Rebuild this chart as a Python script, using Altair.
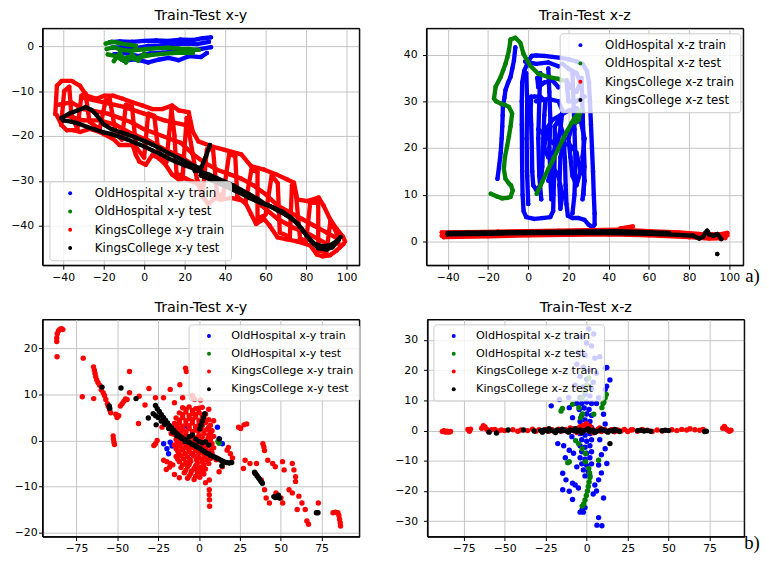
import altair as alt
import pandas as pd

COLORS = ["#0000ff", "#008000", "#ff0000", "#000000"]
NAMES_XY = ["OldHospital x-y train", "OldHospital x-y test", "KingsCollege x-y train", "KingsCollege x-y test"]
NAMES_XZ = ["OldHospital x-z train", "OldHospital x-z test", "KingsCollege x-z train", "KingsCollege x-z test"]

A_XTICKS = [-40, -20, 0, 20, 40, 60, 80, 100]
A_XY_YTICKS = [-40, -30, -20, -10, 0]
A_XZ_YTICKS = [0, 10, 20, 30, 40]
B_XTICKS = [-75, -50, -25, 0, 25, 50, 75]
B_XY_YTICKS = [-20, -10, 0, 10, 20]
B_XZ_YTICKS = [-30, -20, -10, 0, 10, 20, 30]

# ---------------- a) x-y : trajectories (polylines of sampled positions) ----------------
A_XY_OH_TRAIN = [
    [(-17, 0.9), (-12, 1.1), (-6, 1.0), (0, 1.2), (6, 1.3), (12, 1.2), (18, 1.5), (24, 1.4), (29, 1.8), (33, 2.0)],
    [(-16, -0.3), (-10, -0.2), (-4, -0.4), (2, 0.1), (8, 0.2), (14, 0.4), (20, 0.6), (26, 0.5), (32, 1.0)],
    [(-15, -1.8), (-9, -1.5), (-3, -2.2), (3, -1.6), (9, -1.4), (15, -1.2), (21, -1.0), (27, -0.7), (33, -0.2)],
    [(-10, -3.2), (-4, -2.9), (2, -3.6), (7, -3.0), (12, -2.6), (17, -3.1), (22, -2.2), (28, -2.4), (31, -1.5)],
]
A_XY_OH_TEST = [
    [(-19, 0.6), (-16, 1.0), (-13, 0.8), (-10, 0.5), (-7, 0.3), (-4, 0.1)],
    [(-18.5, -0.6), (-15, -0.2), (-11, -0.8), (-7, -1.0), (-3, -0.8), (2, -0.6), (7, -0.4), (12, -0.3), (17, -0.5), (22, -0.6), (27, -0.8)],
    [(-18, -1.8), (-14, -2.2), (-11, -3.0), (-8, -2.4), (-5, -2.8), (-1, -2.3), (4, -1.9), (9, -1.7), (14, -1.5), (19, -1.4), (24, -1.5)],
    [(-15, -3.3), (-12, -1.5), (-9, -3.6), (-6, -1.8), (-3, -3.2), (0, -1.6)],
]
A_XY_KC_TRAIN = [
    [(-43.9, -15.1), (-43.1, -8.8), (-40.7, -7.7), (-35.8, -7.7), (-31.7, -8.8), (-28.5, -11), (-23.6, -11.7), (-19.5, -11),
     (-15.4, -11), (-10.6, -11.7), (-5.7, -12.5), (-0.8, -13.2), (4.1, -14), (8.9, -14), (13.8, -13.2), (17.1, -14.3), (22, -14.7),
     (24, -19), (26.8, -21.2), (33.3, -22.3), (39.8, -23.1), (48, -24.1), (52.8, -26.7), (59.3, -27.5), (65, -28.5), (70.7, -29.7),
     (74, -30.4), (75.6, -34.1), (80.5, -34.5), (86.2, -33.7), (88.6, -35.5), (91.8, -38.5), (95.1, -40.7), (98.3, -42.5), (99.2, -43.5)],
    [(98.4, -44.1), (96.7, -44.8), (95.1, -45.5), (91.8, -46.6), (88, -46.8), (85.3, -46.4), (82.1, -44.4), (75.6, -43.5), (70, -43),
     (65.9, -42.6), (62, -40), (59.3, -38.5), (55.3, -39.6), (52.8, -37.4), (49.6, -34.5), (43.1, -33.8), (38, -34.2), (34.9, -33.8),
     (31.7, -35.2), (29.3, -33.8), (26.8, -30.8), (23.6, -30.1), (20.3, -29.4), (17.1, -29.7), (13.8, -28.6), (10.6, -26.4), (7.3, -25),
     (4.1, -24.2), (0.8, -26.4), (-2.4, -25.7), (-4.1, -24.2), (-5.7, -22), (-8.9, -22), (-12.2, -22), (-15.4, -20.6), (-22, -19.1),
     (-26.8, -18.4), (-31.7, -19.1), (-34.9, -18.7), (-38.2, -18.7), (-40.7, -17.6), (-43.1, -15.4)],
    [(-41, -17.5), (-39.5, -10), (-37, -9), (-36, -15), (-33, -18.5), (-31, -11), (-29, -10.5), (-27, -16.8), (-22, -18.5), (-19, -12),
     (-17, -11.8), (-14, -19.5), (-11, -20.8), (-9, -13), (-6, -13.5), (-4, -22.5), (0, -24.8), (2, -15), (5, -15.5), (7, -23.5),
     (11, -25.8), (13.5, -14), (15, -20), (16, -28.5), (19, -28.8), (21, -16), (24, -24), (26, -29.5), (29, -32.5), (31, -23), (34, -22.8),
     (36, -33), (39, -33.2), (42, -24), (45, -24.5), (46, -33.5), (50, -35), (53, -27.5), (56, -28), (56, -38.5), (60, -37.5), (63, -28.8),
     (66, -30.5), (67, -41.5), (72, -42.5), (73, -31), (75, -33), (77, -42.8), (80, -43.5), (82, -35), (86, -34.5), (86, -45.5),
     (90, -46), (92, -39), (95, -41.5), (96, -44)],
    [(-42, -13), (-36, -12.5), (-30, -14), (-24, -14.5), (-18, -15), (-12, -16), (-6, -17), (0, -18.5), (6, -19.5), (12, -20.5),
     (18, -21.5), (24, -24), (30, -26), (36, -27.5), (42, -28.5), (48, -29.5), (54, -31), (60, -33), (66, -35.5), (72, -37),
     (78, -38.5), (84, -40), (90, -41.5), (96, -43)],
    [(-38, -15.5), (-30, -16.5), (-22, -16.5), (-14, -17.5), (-6, -19.5), (2, -21), (10, -23), (18, -24.5), (26, -27), (34, -30),
     (42, -31.5), (50, -32.5), (58, -35.5), (66, -38.5), (74, -40.5), (82, -42), (90, -44)],
    [(-30, -11.5), (-20, -12.5), (-10, -13.5), (0, -15), (10, -16.5), (20, -17.5)],
]
A_XY_KC_TEST = [
    [(-40, -16.5), (-36, -16.8), (-32, -17.3), (-28, -18.0), (-24, -18.6), (-20, -19.2), (-16, -19.6), (-12, -20.2), (-8, -20.8),
     (-4, -21.6), (0, -22.3), (4, -23.2), (8, -24.0), (12, -25.0), (16, -25.8), (20, -26.5), (24, -27.2), (28, -28.0), (32, -28.6),
     (36, -29.4), (40, -30.2), (44, -31.0), (48, -32.0), (52, -33.0), (56, -34.0), (60, -35.2), (64, -36.0), (68, -36.8), (72, -38.0),
     (76, -39.6), (80, -42.0), (84, -44.0), (88, -44.6), (92, -44.3), (95, -43.5), (97, -42.5)],
    [(-41, -16.0), (-37, -15.0), (-33, -14.3), (-29, -13.6), (-26, -14.2), (-23.5, -15.3), (-20, -17.4), (-16, -18.5), (-12, -19.1),
     (-8, -19.7), (-4, -20.4), (0, -21.1), (4, -21.9), (8, -22.8), (12, -23.8), (16, -24.7), (20, -25.6), (24, -26.5), (28, -27.3)],
    [(25, -27.8), (28.5, -26.8), (30.5, -24.5), (32.5, -22)],
    [(28, -28.8), (34, -30.0), (40, -31.2), (46, -32.4), (52, -33.8), (58, -35.0), (62, -35.6), (66, -36.6), (70, -37.6), (74, -38.8),
     (78, -40.8), (82, -43.2), (86, -45.0), (90, -45.3), (93, -44.8), (96, -43.2)],
]

# ---------------- a) x-z ----------------
A_XZ_OH_TRAIN = [
    [(-15.3, 13.4), (-14.5, 16), (-13.7, 19.0), (-13.2, 22), (-12.9, 24.6), (-12.7, 27), (-12.6, 28.8), (-11.8, 30.8), (-11.3, 32.4),
     (-10, 34), (-8.8, 35.2), (-7.9, 37), (-7.1, 38.7), (-6.4, 41.5)],
    [(1.8, 39.7), (0, 38.5), (-2, 36.5), (-3, 34), (-3.2, 30), (-3.2, 25), (-3.1, 20), (-3.0, 15), (-2.8, 10), (-2.3, 6.5), (-1, 5.2),
     (3, 4.8), (7, 5.0), (11, 5.2), (12.4, 6.5), (12.6, 10), (13, 15), (13.2, 20), (13.2, 24.6)],
    [(13.2, 24.6), (15, 26), (17.5, 23), (18.3, 17), (18.6, 12), (19, 8), (19.7, 5.5), (22, 5.0), (25, 5.0), (28, 4.6), (30, 3.6),
     (32, 3.0), (33, 3.6), (33, 6), (32.6, 10), (32.2, 15), (31.7, 20), (31.2, 25), (30.7, 30), (30.2, 34), (29.2, 36.5), (27, 38),
     (24, 38.5), (20, 39), (16, 39.3), (12, 39.5), (8, 39.7), (4, 39.8), (1.8, 39.7)],
    [(1.5, 31), (1.2, 28), (1.5, 25), (1.8, 20), (2, 15), (2.5, 12), (4, 11), (6, 12), (7, 16), (7.5, 22), (8, 27), (8.5, 30), (6, 31), (3, 31)],
    [(4, 30), (10, 30.5), (15, 30), (17, 28), (16, 24), (14, 20), (10, 18), (8, 20), (9, 24), (12, 26), (16, 27), (20, 28), (24, 28.5), (27, 27)],
    [(5, 24), (10, 22), (15, 20), (20, 21), (24, 19), (26, 15), (24, 12), (22, 14), (21, 18), (20, 22), (22, 25), (26, 26), (28, 22),
     (27, 18), (28, 13), (27, 9)],
    [(10, 13), (12, 16), (15, 14), (17, 10), (16, 7), (15.5, 12), (16, 18), (18, 22)],
    [(17, 38), (20, 37), (24, 36), (26, 34), (24, 32), (21, 33), (19, 34.5), (20, 30), (24, 30), (28, 31)],
    [(-1.5, 38.5), (4, 38), (10, 38.3), (15, 37.5)],
    [(4.5, 35), (5, 33), (8, 34), (12, 34.5), (15, 33)],
    [(-1, 36), (-0.5, 30), (-0.8, 22), (-0.5, 14), (0, 8)],
    [(6, 36), (5.5, 30), (5, 22), (5.5, 14), (6.5, 9)],
    [(22, 36), (22.5, 30), (23, 24), (23.5, 17), (23, 10), (22, 6)],
    [(26.5, 35), (27, 28), (27.5, 22), (28, 16), (27.5, 10)],
    [(10, 37), (10.5, 32), (11, 26), (10.5, 20), (11, 14), (11.5, 9)],
]
A_XZ_OH_TEST = [
    [(-18.6, 10.2), (-15.5, 9.6), (-12.9, 9.2), (-10.5, 9.3), (-8.8, 9.5), (-7.7, 10.9), (-8.6, 12), (-9.6, 12.4), (-11.3, 13.4),
     (-12.1, 15.5), (-11.6, 18), (-10.5, 20.4), (-9.6, 22.5), (-8.8, 24.6), (-8.0, 27.4), (-9.6, 28.8), (-11.5, 29.2), (-13.7, 29.5),
     (-16, 30), (-17.0, 30.6), (-16.2, 33.1), (-13.7, 35.2), (-12.5, 36.6), (-11.3, 38.0), (-10.4, 39.4), (-9.6, 40.8), (-8.8, 43.2),
     (-6.4, 43.6), (-3.9, 42.5), (-2.3, 40.1), (1.0, 37.6), (5.0, 35.9), (9.9, 35.2), (14.8, 34.8), (17, 34.5)],
    [(4.2, 10.2), (7, 12.8), (10.0, 15.5), (12.5, 17.6), (14.8, 19.7), (17.2, 21.8), (19.7, 23.9), (21.5, 25.3), (23.0, 26.4),
     (24.9, 27.4), (26, 28), (25, 26), (23.5, 25.5)],
]
A_XZ_KC_TRAIN = [
    [(-43, 1.2), (-30, 1.4), (-15, 1.6), (0, 1.7), (15, 1.8), (30, 1.9), (45, 2.0), (60, 1.8), (75, 1.4), (85, 1.2), (92, 1.0), (99, 1.3)],
    [(-43, 1.9), (-30, 2.0), (-15, 2.1), (0, 2.2), (15, 2.3), (30, 2.4), (45, 2.5), (60, 2.2), (75, 1.9), (85, 1.6), (95, 1.5), (99, 1.8)],
    [(-42, 0.9), (-20, 1.1), (0, 1.3), (20, 1.4), (40, 1.5), (60, 1.3), (80, 0.9), (90, 0.6), (98, 0.7)],
    [(46, 2.8), (52, 3.2)],
]
A_XZ_KC_TEST = [
    [(-40, 1.5), (-20, 1.6), (0, 1.8), (20, 1.8), (40, 1.8), (60, 1.6), (75, 1.4), (82, 1.2), (85, 0.6), (87, 1.0), (88, 1.8),
     (89, 2.3), (90, 1.5), (92, 1.2), (94, 1.6), (96, 0.5)],
    [(-40, 1.8), (-10, 2.0), (20, 2.1), (45, 2.2), (70, 1.8)],
    [(94, -2.7)],
]

# ---------------- b) x-y : scattered positions ----------------
B_XY_OH_TRAIN = [(-21.6, -0.7), (-19.6, -1.8), (-18.6, -2.9), (-17.6, -0.4), (-16.5, -1.2), (-13.6, 1.4), (11.3, 2.9), (12.3, 0.4),
                 (14.3, -0.7), (7.3, -2.9), (-7, 3), (-4, -3)]
B_XY_OH_TEST = [(12.3, -0.6), (11.6, -0.2)]
B_XY_KC_TRAIN = [
    (-87, 21.5), (-87, 22.3), (-86.7, 23.2), (-86, 23.8), (-85, 24.2), (-84, 24.3), (-83.3, 24.1), (-86.8, 18.2), (-70.8, 17.9),
    (-71.4, 9.5), (-64.4, 9.1), (-64.5, 16), (-64, 15.3), (-63.6, 14.6), (-63.2, 13.9), (-62.6, 13.2), (-61.8, 12.6), (-60.8, 12.0),
    (-59.8, 11.0), (-58.6, 10.4), (-57.8, 9.8), (-57, 8.9), (-56, 8.0), (-55.5, 7.4), (-54.6, 6.6), (-54, 6.0), (-48.1, 7.5),
    (-47, 8.0), (-46, 8.5), (-45, 9.0), (-49.1, 5.4), (-50.1, 5.0), (-50.9, 5.7), (-42.5, 15.0), (-52.5, 1.0), (-52.3, 0.3),
    (-52, -0.4), (-51.7, -0.9), (-37, 3.7), (-33, 7.7), (-30.6, 11.3), (-36.6, 9.6), (-42.5, 10.4), (-44, 8.9), (-26.6, 9.3),
    (-21.7, 9.3), (-17.6, 11.1), (-11.7, 12.1), (-8.2, 15.7), (-7.7, 15.0), (-3.7, 9.3), (-2.7, 8.9), (-25.6, 0), (-26.6, -0.7),
    (-27.6, -1.1), (-22.6, 2.9), (-21.6, -4.3), (-19.6, -4.6), (-17.6, -5.0), (-16, -5.3), (1.3, -7.1), (6.3, -8.6), (6.3, -10.7),
    (6.3, -11.8), (6.4, -12.9), (6.5, -14.3), (12.3, -6.8), (14.3, -5.7), (17.2, -2.1), (19.2, -2.9), (18, -1.5), (20.5, -3.8),
    (24.2, 2.9), (25.5, 2.6), (27.5, 3.4), (29.2, 3.6), (28.2, -4.3), (31.2, -5.0), (35.2, -5.0), (27.2, -6.1), (39.1, -0.7),
    (39.7, -1.4), (40.1, -2.2), (42.1, -4.3), (45.1, -5.0), (46.7, -5.7), (51.1, -4.6), (52.1, -6.4), (57.1, -5.0), (58.1, -6.4),
    (59.1, -7.9), (59.1, -8.9), (34.2, -7.1), (38.1, -8.6), (40.1, -10.7), (41.1, -12.5), (43.1, -13.6), (47.1, -11.4), (50.1, -12.5),
    (51.2, -13.6), (55.1, -10.7), (57.1, -11.4), (61.1, -12.1), (63.0, -13.6), (60.1, -15.0), (65, -15.0), (66, -17.5), (67, -18.2),
    (73, -13.6), (82, -15.7), (83.5, -15.6), (85, -15.7), (85.6, -16.3), (86, -17.1), (86.4, -17.9), (86.6, -18.6),
    (-10, 7.1), (-6, 7.3), (-2, 6.9), (2, 7.2), (-12, 6.0), (-8, 6.2), (-4, 5.8), (0, 6.1), (4, 5.7),
    (-14, 4.9), (-10, 5.0), (-6, 4.7), (-2, 5.1), (2, 4.8), (6, 4.5),
    (-15, 3.7), (-12, 3.9), (-8, 3.6), (-4, 3.8), (0, 3.5), (4, 3.9), (7, 3.3),
    (-16, 2.5), (-13, 2.7), (-10, 2.4), (-6, 2.6), (-2, 2.3), (1, 2.7), (5, 2.4), (8, 2.1),
    (-15, 1.3), (-11, 1.5), (-8, 1.2), (-4, 1.4), (0, 1.1), (3, 1.5), (6, 1.2), (9, 0.9),
    (-14, 0.2), (-10, 0.0), (-7, 0.3), (-3, -0.1), (1, 0.2), (4, -0.2), (7, 0.1),
    (-15, -1.0), (-12, -1.2), (-8, -0.9), (-5, -1.3), (-1, -1.0), (2, -1.4), (6, -1.1), (9, -1.6),
    (-13, -2.3), (-10, -2.1), (-6, -2.4), (-2, -2.2), (1, -2.6), (5, -2.3), (8, -2.7),
    (-14, -3.5), (-11, -3.3), (-7, -3.6), (-3, -3.4), (0, -3.8), (4, -3.5), (7, -3.9),
    (-12, -4.6), (-8, -4.8), (-5, -4.5), (-1, -4.9), (2, -4.6), (6, -5.0),
    (-11, -5.9), (-7, -5.7), (-3, -6.1), (1, -5.8), (4, -6.2),
    (-9, -7.0), (-5, -7.2), (-1, -6.9), (3, -7.3), (-7, -8.2), (-3, -8.5), (0.5, -8.0),
    (-8, 6.8), (-4, 6.5), (0, 7.0), (-10, 5.6), (-6, 5.4), (-2, 5.6), (2, 5.5), (-12, 4.4), (-8, 4.3), (-4, 4.5), (0, 4.3), (4, 4.4),
    (-13.5, 3.2), (-10, 3.1), (-6, 3.2), (-2, 3.0), (2, 3.2), (6, 2.9), (-14.5, 1.9), (-11.5, 2.0), (-8, 1.9), (-4, 1.9), (-0.5, 2.0),
    (3, 2.1), (7, 1.7), (-12.5, 0.7), (-9, 0.6), (-5, 0.7), (-1.5, 0.6), (2, 0.8), (5.5, 0.5), (-13, -0.5), (-10.5, -0.5), (-6.5, -0.5),
    (-2.5, -0.6), (0.5, -0.5), (4.5, -0.8), (8, -0.7), (-14, -1.8), (-10, -1.6), (-7, -1.7), (-3.5, -1.6), (0, -1.9), (4, -1.7),
    (7.5, -2.1), (-12.5, -2.9), (-8.5, -2.9), (-4.5, -2.8), (-0.5, -3.0), (3, -3.0), (6, -3.2), (-13, -4.1), (-9.5, -4.0),
    (-5.5, -4.1), (-1.5, -4.2), (2, -4.0), (5, -4.3), (-10, -5.3), (-6, -5.2), (-2, -5.5), (3, -5.3), (-8, -6.5), (-4.5, -6.6),
    (-0.5, -6.4), (2.5, -6.6), (-6, -7.7), (-2, -7.8),
    (-18, -5.8), (-20, -6.3), (-17, 1.5), (-19, 3.2), (-15, 8.2), (-10, 9.3), (-4, 9.8), (1, 8.8), (6, 6.8), (9, 4.3),
    (10.5, -4.2), (-15, -7.4), (-12, -8.1), (4, -9.2),
]
B_XY_KC_TEST = [
    (-26.6, 7.6), (-25.5, 6.9), (-24.3, 6.3), (-23, 5.6), (-21.8, 5.0), (-20.5, 4.4), (-19.2, 3.8), (-18, 3.2), (-16.7, 2.7),
    (-15.5, 2.2), (-14.2, 1.7), (-13, 1.3), (-11.7, 0.9), (-10.5, 0.6), (-9.2, 0.3), (-8, 0.0), (-6.7, -0.3), (-5.5, -0.5),
    (-4.2, -0.8), (-3, -1.0), (-1.7, -1.3), (-0.5, -1.5), (0.8, -1.8), (2, -2.1), (3.3, -2.4), (4.5, -2.7), (5.8, -2.9), (7, -3.2),
    (8.3, -3.4), (9.5, -3.6), (10.8, -3.8), (12, -4.0), (13.3, -4.3), (14.5, -4.5), (15.8, -4.7), (17, -4.8), (18.5, -4.9), (20, -4.8),
    (-28, 5.8), (-26.5, 5.4), (-25, 5.0), (-23, 4.2), (-21, 3.5), (-18.5, 2.6), (-16, 1.8), (-13.5, 1.0), (-11, 0.5), (-8.5, -0.2),
    (-6, 0.8), (-4, 1.2), (-2, 0.3), (0, -0.2), (2, -0.5), (4, -0.3), (6, -1.0),
    (0.5, 2.5), (1.2, 3.3), (2, 4.2), (2.8, 5.0), (3.5, 5.8),
    (-59.3, 11.6), (-47.7, 11.4), (-38.5, 9.1), (-54.9, 7.5), (-54.6, 7.0), (-31, 4.9), (-26.2, 3.4), (12.5, 0.3), (14, -5.5),
    (34, -6.9), (34.8, -7.3), (35.6, -7.7), (36.4, -8.1), (37.2, -8.5), (38, -8.9), (38.8, -9.3),
    (45.8, -12.2), (46.8, -12.4), (47.8, -12.3), (48.6, -11.9), (49.2, -12.5), (71.8, -15.7), (72.8, -15.7),
]

# ---------------- b) x-z ----------------
B_XZ_OH_TRAIN = [
    (-4, 11), (-1, 12), (2, 11.5), (-3, 9), (0, 9.5), (3, 9), (-4.5, 7), (-1.5, 7.5), (1.5, 7), (-3, 5), (0, 5.5), (3, 5),
    (-4, 3), (-1, 3.5), (2, 3), (-3, 1), (0, 1.5), (3, 1), (-4, -1), (-1, -1.5), (2, -1), (-3, -3), (0, -3.5), (3, -3),
    (-4, -5), (-1, -5.5), (2, -5), (-3, -7), (0, -7.5), (3, -7), (-4, -9), (-1, -9.5), (2, -9), (-3, -11), (0, -11.5), (3, -11),
    (-2, -13), (1, -13.5), (-1, -15), (2, -15),
    (1.3, 33.7), (4.3, 32), (-3, 31), (0, 29), (3, 28), (-5, 26), (-1, 25), (5, 24), (-6, 22), (-2, 21), (2, 20), (6, 19),
    (-4, 18), (0, 17), (4, 16), (-7, 15), (-2, 14.5), (3, 14),
    (8, 24.5), (11.3, 20.7), (12.3, 20.9), (14.2, 16.8), (12.2, 14.7), (11.3, 13.6), (7.3, 10.9), (-16.6, 10.3), (-21.6, 8.2),
    (-10.6, 7.6), (-8.6, 4.3), (10.3, 5.4), (11.3, 2.2), (-17.6, -4.3), (-14, -5), (-10.6, -6.5), (-8, -7.5), (11.3, -6),
    (12.3, -10.9), (7.3, -11.4), (-14.6, -14.1), (-12.6, -16.3), (-8.6, -17.4), (-14.6, -19.6), (-10.6, -20.1), (-8.6, -22.8),
    (-2.7, -26.1), (-1, -25.5), (10.3, -22.3), (7.3, -16.3), (7.3, -28.8), (6.3, -31.3), (9.3, -31.5), (-4, -27), (-2, -27),
    (5, -18), (6, -20), (-6, -12), (-7, -18), (8, -3), (9, -8), (-9, -2), (-6, 9), (6, 9), (-11, 11), (-13, -9), (-5, -19),
    (4, -21), (9, -14),
]
B_XZ_OH_TEST = [
    (-15.6, 6.5), (-14.8, 7.3), (-8.6, 8.7), (-4.7, 7.6), (-2.7, 10.9), (-3.7, 4.3), (-2.5, 5.5), (4.3, 5.4), (9.3, 7.6),
    (10.5, 9.5), (11.3, 10.9), (12, 12), (10, 9), (-6.7, -3.3), (-5, -4.3), (-2.7, -6), (-0.7, -7.6), (-0.7, -10.3),
    (-10.6, -10.3), (-11.5, -10.6), (7.3, -9.8), (1.3, -12.5), (1.8, -14), (2.0, -15.5), (1.5, -17), (1.0, -18.5), (0.5, -20),
    (-0.2, -21.5), (-1, -23), (-1.8, -24.3), (-2.7, -25), (1.3, 17.4), (0, 15), (-1, 13),
]
B_XZ_KC_TRAIN = [
    (-88, -0.3), (-87, 0.0), (-86, -0.5), (-85, -0.2), (-84, -0.5), (-83, -0.3), (-72.4, 0.4), (-71.5, -0.2), (-70.8, 0.5),
    (-64, 0.8), (-63, 1.6), (-62, 1.2), (-61, 0.5), (-60, -0.2), (-58, 0.3), (-56, 0.4), (-54, -0.1), (-52, 0.2), (-50, 0.0),
    (-45, 0.3), (-42, -0.2), (-40, 0.2), (-36, 0.0), (-33, 0.5), (-31, -0.2),
    (-29, 0.3), (-27, -0.3), (-25, 0.4), (-23, -0.2), (-21, 0.3), (-19, -0.4), (-17, 0.5), (-15, -0.1), (-13, 0.4), (-11, -0.3),
    (-9, 0.6), (-7, -0.2), (-5, 0.8), (-3, 0.1), (-1, 1.0), (1, 0.2), (3, 0.7), (5, -0.2), (7, 0.5), (9, -0.3), (11, 0.4),
    (13, -0.2), (15, 0.3), (17, -0.4), (19, 0.2), (21, -0.1), (23, 0.4), (25, -0.3), (27, 0.2),
    (-2, 1.8), (0, 2.3), (2, 1.5), (-4, 1.3), (-6, -0.6), (4, -0.7), (8, 0.9), (-10, 0.9),
    (28, 0.3), (31, -0.2), (34, 0.4), (37, 0.1), (40, -0.3), (43, 0.2), (46, -0.1), (52, 0.3), (55, 0.0), (58, 0.4), (61, 0.2),
    (63, 0.6), (66, 0.3), (69, 0.1), (71, 0.4), (83, 0.8), (84, 1.4), (85, 0.6), (86, 0.2), (87, -0.2), (88, 0.1),
]
B_XZ_KC_TEST = [
    (-28, 0.0), (-26, 0.2), (-24, -0.1), (-22, 0.1), (-20, -0.2), (-18, 0.2), (-16, -0.1), (-14, 0.1), (-12, -0.2), (-10, 0.2),
    (-8, 0.0), (-6, -0.3), (-4, 0.2), (-2, -0.1), (0, 0.3), (2, -0.2), (4, 0.1), (6, -0.3), (8, 0.0), (10, 0.2), (12, -0.2),
    (14, 0.0), (16, -0.1), (18, 0.1), (20, -0.3),
    (-27, -0.5), (-23, 0.6), (-19, -0.6), (-15, 0.5), (-11, -0.5), (-7, 0.6), (-3, -0.6), (1, 0.6), (5, -0.6), (9, 0.5),
    (13, -0.5), (17, 0.4),
    (-59.5, -0.5), (-55, -0.8), (-47.9, 0.2), (-38.5, 0.2), (-32, -0.1), (14.2, -4.3), (31, 0), (33, 0.1), (35, -0.1), (37, 0),
    (39, -0.2), (46, 0), (48, 0.1), (50, 0), (72, -0.3), (73, -0.2),
]

FONT = "DejaVu Sans"


def paths_df(paths, name):
    rows = []
    for s, path in enumerate(paths):
        for i, (a, b) in enumerate(path):
            rows.append({"series": name, "seg": s, "i": i, "u": a, "v": b})
    return pd.DataFrame(rows)


def points_df(points, name):
    return pd.DataFrame([{"series": name, "u": a, "v": b} for a, b in points])


def make_axis(ticks, label_pad, extent=None):
    kw = dict(values=ticks, format="d", grid=True, gridColor="#c4c4c4", gridWidth=1,
              domain=True, domainColor="#000000", domainWidth=1,
              ticks=True, tickColor="#000000", tickSize=4, tickWidth=1,
              labelFont=FONT, labelFontSize=11, labelColor="#000000", labelPadding=label_pad,
              labelFlush=False, labelOverlap=False)
    if extent is None:
        kw["title"] = None
    else:
        # invisible 1px title used only to fix the width of the y axis block
        kw.update(title=" ", titleFontSize=1, titlePadding=0, minExtent=extent)
    return alt.Axis(**kw)


def make_legend(lx, ly, fs, loff, rpad):
    return alt.Legend(title=None, orient="none", legendX=lx, legendY=ly, labelFont=FONT, labelFontSize=fs,
                      labelColor="#000000", symbolType="circle", symbolSize=16, symbolStrokeWidth=0,
                      symbolOpacity=1, padding=6, symbolOffset=9, labelOffset=loff, rowPadding=rpad,
                      fillColor="rgba(255,255,255,0.8)", strokeColor="#cccccc", cornerRadius=3, zindex=1)


def panel(title, names, data, kind, xdom, ydom, xticks, yticks, yext, ypad, leg, w, h, note=None):
    X = alt.X("u:Q", scale=alt.Scale(domain=xdom, nice=False, zero=False), axis=make_axis(xticks, 2))
    Y = alt.Y("v:Q", scale=alt.Scale(domain=ydom, nice=False, zero=False), axis=make_axis(yticks, ypad, yext))
    C = alt.Color("series:N", scale=alt.Scale(domain=names, range=COLORS), legend=make_legend(*leg))
    layers = []
    for k in range(4):
        if kind == "path":
            df = paths_df(data[k], names[k])
            layers.append(alt.Chart(df).mark_line(strokeWidth=4.4, strokeCap="round", strokeJoin="round", clip=True)
                          .encode(x=X, y=Y, detail="seg:N", order="i:Q", stroke=alt.value(COLORS[k])))
            layers.append(alt.Chart(df).mark_circle(size=20, opacity=1, clip=True).encode(x=X, y=Y, color=C))
        else:
            df = points_df(data[k], names[k])
            layers.append(alt.Chart(df).mark_circle(size=30, opacity=1, clip=True).encode(x=X, y=Y, color=C))
    # plot frame (axes box)
    layers.append(alt.Chart(pd.DataFrame({"f": [0]})).mark_rect(filled=False, stroke="#000000", strokeWidth=1)
                  .encode(x=alt.value(0), x2=alt.value(w), y=alt.value(0), y2=alt.value(h)))
    if note is not None:
        txt, nx, ny = note
        layers.append(alt.Chart(pd.DataFrame({"t": [txt]})).mark_text(
            align="left", baseline="alphabetic", font="Liberation Serif", fontSize=19, color="#000000")
            .encode(text="t:N", x=alt.value(nx), y=alt.value(ny)))
    return alt.layer(*layers).properties(
        width=w, height=h,
        title=alt.TitleParams(title, font=FONT, fontSize=14.5, fontWeight="normal", color="#000000",
                              anchor="middle", frame="group", offset=4))


p1 = panel("Train-Test x-y", NAMES_XY, [A_XY_OH_TRAIN, A_XY_OH_TEST, A_XY_KC_TRAIN, A_XY_KC_TEST], "path",
           [-50.2, 106.3], [-48.8, 4.0], A_XTICKS, A_XY_YTICKS, 33, 5, (7, 155, 12, 19, 6.5), 321, 240)
p2 = panel("Train-Test x-z", NAMES_XZ, [A_XZ_OH_TRAIN, A_XZ_OH_TEST, A_XZ_KC_TRAIN, A_XZ_KC_TEST], "path",
           [-50.6, 106.9], [-5.1, 45.6], A_XTICKS, A_XZ_YTICKS, 26, 5.5, (135, 5, 12, 19, 6.5), 321, 240,
           note=("a)", 323, 257))
p3 = panel("Train-Test x-y", NAMES_XY, [B_XY_OH_TRAIN, B_XY_OH_TEST, B_XY_KC_TRAIN, B_XY_KC_TEST], "pts",
           [-95.7, 98.1], [-20.9, 26.3], B_XTICKS, B_XY_YTICKS, 28, 1.5, (148, 5, 11.3, 17, 6), 321, 220)
p4 = panel("Train-Test x-z", NAMES_XZ, [B_XZ_OH_TRAIN, B_XZ_OH_TEST, B_XZ_KC_TRAIN, B_XZ_KC_TEST], "pts",
           [-97.1, 96.1], [-35.1, 36.8], B_XTICKS, B_XZ_YTICKS, 30, 6, (6, 5, 11.3, 17, 6), 321, 220,
           note=("b)", 321, 233))

row1 = alt.hconcat(p1, p2, spacing=39).resolve_scale(x="independent", y="independent", color="independent")
row2 = alt.hconcat(p3, p4, spacing=33).resolve_scale(x="independent", y="independent", color="independent")

chart = (alt.vconcat(row1, row2, spacing=12)
         .resolve_scale(x="independent", y="independent", color="independent")
         .properties(padding={"left": 0, "top": -4, "right": 0, "bottom": -3}, background="white")
         .configure_view(stroke="#000000", strokeWidth=1))

chart.save("out.html", embed_options={"renderer": "svg", "actions": False})
